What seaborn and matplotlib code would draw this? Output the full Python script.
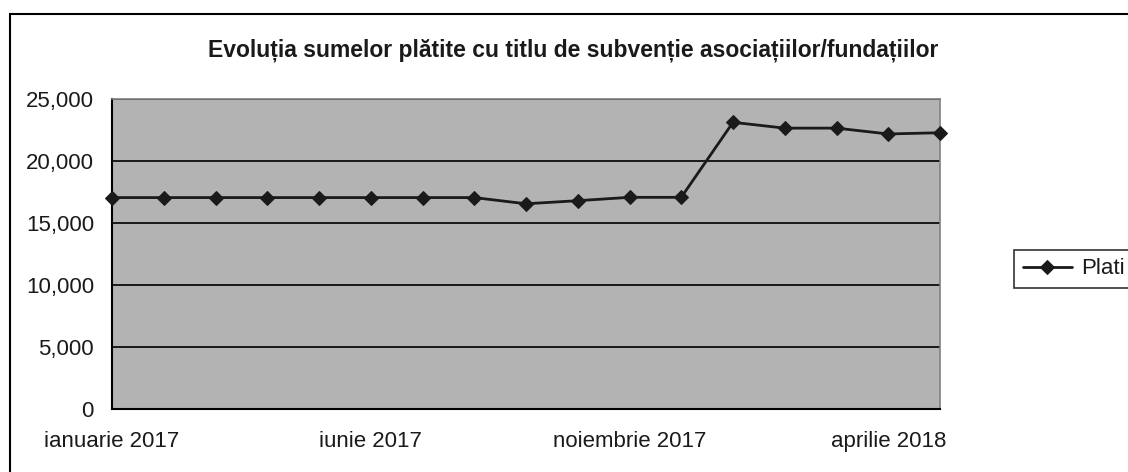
import pandas as pd
import matplotlib.pyplot as plt
import seaborn as sns
from matplotlib.patches import Rectangle
from matplotlib.ticker import FuncFormatter

# Data
luni = ["ianuarie 2017", "februarie 2017", "martie 2017", "aprilie 2017", "mai 2017",
        "iunie 2017", "iulie 2017", "august 2017", "septembrie 2017", "octombrie 2017",
        "noiembrie 2017", "decembrie 2017", "ianuarie 2018", "februarie 2018",
        "martie 2018", "aprilie 2018", "mai 2018"]
plati = [17050, 17050, 17050, 17050, 17050, 17050, 17050, 17050, 16550, 16800,
         17070, 17070, 23120, 22650, 22650, 22180, 22280]
etichete_afisate = ["ianuarie 2017", "iunie 2017", "noiembrie 2017", "aprilie 2018"]

df = pd.DataFrame({"luna": luni, "Plati": plati})
df["idx"] = range(len(df))

sns.set_style("white")
plt.rcParams['font.family'] = ['Liberation Sans Narrow', 'Liberation Sans', 'DejaVu Sans']

fig = plt.figure(figsize=(11.28, 4.72), dpi=100)
ax = fig.add_axes([112 / 1128, 1 - 409 / 472, 828 / 1128, 310 / 472])
ax.set_facecolor("#b3b3b3")

# outer chart frame
fig.patches.append(Rectangle((10 / 1128, -0.1), 1.2, 1 - 14 / 472 + 0.1,
                             transform=fig.transFigure, fill=False,
                             edgecolor="black", linewidth=1.5))

sns.lineplot(data=df, x="idx", y="Plati", ax=ax, color="#1a1a1a", linewidth=2,
             marker="D", markersize=7.5, markeredgecolor="#1a1a1a", label="Plati",
             zorder=5, clip_on=False)

ax.set_xlim(0, len(luni) - 1)
ax.set_ylim(0, 25000)
ax.set_yticks(range(0, 25001, 5000))
ax.yaxis.set_major_formatter(FuncFormatter(lambda v, p: f"{int(v):,}"))
ax.grid(axis="y", color="black", linewidth=1.2)
ax.set_axisbelow(True)

ax.set_xticks(df["idx"])
ax.set_xticklabels([l if l in etichete_afisate else "" for l in luni])
ax.tick_params(axis="x", direction="in", length=7, width=1, color="black",
               labelsize=16, pad=16, labelcolor="#1a1a1a")
ax.tick_params(axis="y", direction="in", length=6, width=1, color="black",
               labelsize=16, pad=13, labelcolor="#1a1a1a")
ax.set_xlabel("")
ax.set_ylabel("")

for s in ["left", "bottom"]:
    ax.spines[s].set_color("black")
    ax.spines[s].set_linewidth(1.5)
for s in ["top", "right"]:
    ax.spines[s].set_color("#808080")
    ax.spines[s].set_linewidth(1.2)

fig.text(573 / 1128, 1 - 56 / 472, "Evoluția sumelor plătite cu titlu de subvenție asociațiilor/fundațiilor",
         ha="center", va="baseline", fontsize=16.5, fontweight="bold", color="#1a1a1a")

leg = ax.legend(loc="center left", bbox_to_anchor=(1014 / 1128, 1 - 269 / 472),
                bbox_transform=fig.transFigure, frameon=True, fancybox=False,
                fontsize=16, handlelength=2.2, handletextpad=0.4, borderpad=0.4,
                borderaxespad=0)
leg.get_frame().set_edgecolor("black")
leg.get_frame().set_linewidth(1.2)
for t in leg.get_texts():
    t.set_color("#1a1a1a")

fig.savefig("out.png", dpi=100)
